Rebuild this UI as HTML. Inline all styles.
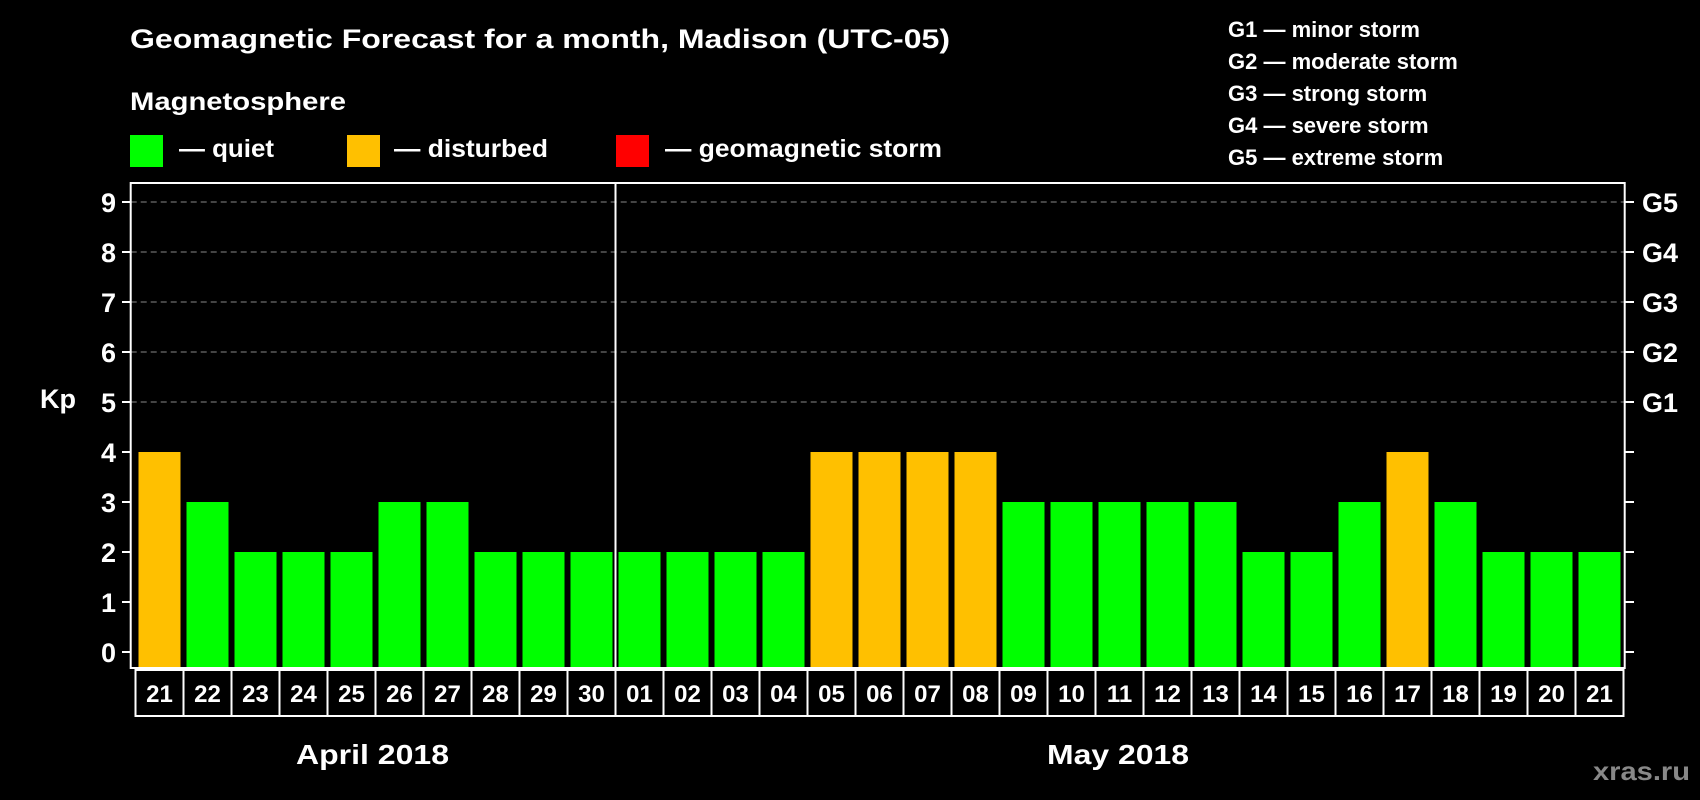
<!DOCTYPE html>
<html><head><meta charset="utf-8"><style>
html,body{margin:0;padding:0;background:#000;}
svg{display:block;font-family:"Liberation Sans",Arial,sans-serif;font-weight:bold;}
</style></head><body>
<svg id="chart" width="1700" height="800" viewBox="0 0 1700 800" xmlns="http://www.w3.org/2000/svg">
<rect width="1700" height="800" fill="#000"/>
<text x="130" y="48" font-size="27" fill="#fff" textLength="820" lengthAdjust="spacingAndGlyphs">Geomagnetic Forecast for a month, Madison (UTC-05)</text>
<text x="130" y="110" font-size="25" fill="#fff" textLength="216" lengthAdjust="spacingAndGlyphs">Magnetosphere</text>
<rect x="130" y="135" width="33" height="32" fill="#00ff00"/>
<text x="179" y="157" font-size="25" fill="#fff" textLength="95" lengthAdjust="spacingAndGlyphs">— quiet</text>
<rect x="347" y="135" width="33" height="32" fill="#ffc000"/>
<text x="394" y="157" font-size="25" fill="#fff" textLength="154" lengthAdjust="spacingAndGlyphs">— disturbed</text>
<rect x="616" y="135" width="33" height="32" fill="#ff0000"/>
<text x="665" y="157" font-size="25" fill="#fff" textLength="277" lengthAdjust="spacingAndGlyphs">— geomagnetic storm</text>
<g font-size="22" fill="#fff">
<text x="1228" y="37">G1 — minor storm</text>
<text x="1228" y="69">G2 — moderate storm</text>
<text x="1228" y="101">G3 — strong storm</text>
<text x="1228" y="133">G4 — severe storm</text>
<text x="1228" y="165">G5 — extreme storm</text>
</g>
<g id="grid"></g>
<g id="bars"></g>
<g id="axes"></g>
<text x="40" y="408" font-size="27" fill="#fff">Kp</text>
<text x="296" y="764" font-size="28" fill="#fff" textLength="153" lengthAdjust="spacingAndGlyphs">April 2018</text>
<text x="1047" y="764" font-size="28" fill="#fff" textLength="142" lengthAdjust="spacingAndGlyphs">May 2018</text>
<text x="1593" y="780" font-size="26" fill="#888" textLength="97" lengthAdjust="spacingAndGlyphs">xras.ru</text>
</svg>
<script>
const days = ["21","22","23","24","25","26","27","28","29","30","01","02","03","04","05","06","07","08","09","10","11","12","13","14","15","16","17","18","19","20","21"];
const kpValues = [4,3,2,2,2,3,3,2,2,2,2,2,2,2,4,4,4,4,3,3,3,3,3,2,2,3,4,3,2,2,2];
const yTicks = [0,1,2,3,4,5,6,7,8,9];
const gLabels = ["G1","G2","G3","G4","G5"];
const gLevels = [5,6,7,8,9];
const monthBoundaryIndex = 10;

const NS="http://www.w3.org/2000/svg";
const plotL=130.7, plotR=1624.7, plotT=183, plotB=668;
const slotX0=135.5, slotW=48, barW=42;
function yScale(v){return 652-50*v;}
function xSlot(i){return slotX0+slotW*i;}
function mk(tag,attrs,parent){const e=document.createElementNS(NS,tag);for(const k in attrs)e.setAttribute(k,attrs[k]);parent.appendChild(e);return e;}
const grid=document.getElementById('grid'),bars=document.getElementById('bars'),axes=document.getElementById('axes');

gLevels.forEach((lv,i)=>{
  const l=mk('line',{x1:plotL,x2:plotR,y1:yScale(lv),y2:yScale(lv),stroke:'#888','stroke-width':1,'stroke-dasharray':'6,4'},grid);
  
  
});
kpValues.forEach((v,i)=>{
  const cx=xSlot(i)+slotW/2;
  const r=mk('rect',{x:cx-barW/2,y:yScale(v),width:barW,height:plotB-yScale(v),fill:v>=5?'#ff0000':(v>=4?'#ffc000':'#00ff00')},bars);
  
  
  const b=mk('rect',{x:xSlot(i),y:670,width:slotW,height:46,fill:'none',stroke:'#fff','stroke-width':2},axes);
  
  
  const t=mk('text',{x:cx,y:702,'font-size':24,fill:'#fff','text-anchor':'middle'},axes);
  t.textContent=days[i];
  
  
});
const fr=mk('rect',{x:plotL,y:plotT,width:plotR-plotL,height:plotB-plotT,fill:'none',stroke:'#fff','stroke-width':2},axes);


const sep=mk('line',{x1:xSlot(monthBoundaryIndex),x2:xSlot(monthBoundaryIndex),y1:plotT,y2:plotB,stroke:'#fff','stroke-width':2},axes);


yTicks.forEach(v=>{
  const y=yScale(v);
  const tl=mk('line',{x1:122,x2:plotL,y1:y,y2:y,stroke:'#fff','stroke-width':2},axes);
  
  
  const tr=mk('line',{x1:plotR,x2:1634,y1:y,y2:y,stroke:'#fff','stroke-width':2},axes);
  
  
  const t=mk('text',{x:116,y:y+10,'font-size':27,fill:'#fff','text-anchor':'end'},axes);
  t.textContent=String(v);
  
  
});
gLabels.forEach((g,i)=>{
  const t=mk('text',{x:1642,y:yScale(gLevels[i])+10,'font-size':27,fill:'#fff'},axes);
  t.textContent=g;
  
  
});
</script>
</body></html>
